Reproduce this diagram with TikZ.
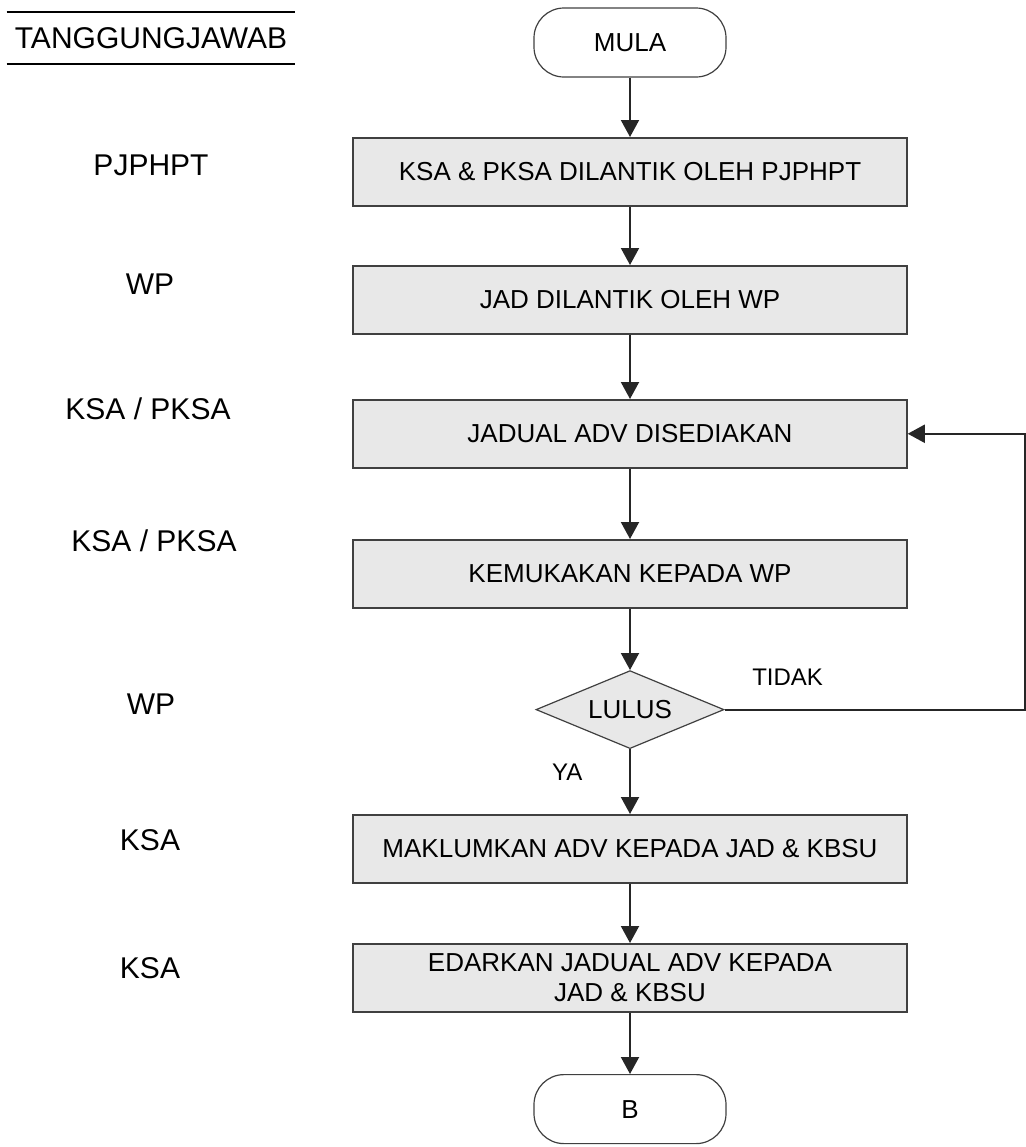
\documentclass[tikz,border=0pt]{standalone}
\usepackage{fontspec}
\setmainfont{Liberation Sans}
\usepackage{tikz}
\usetikzlibrary{shapes.geometric, positioning, arrows.meta, calc}
\tikzset{
  terminal/.style={rectangle, rounded corners=15pt, minimum width=96pt, minimum height=34.5pt, text centered, draw=black!75, line width=0.6pt},
  langkah/.style={rectangle, minimum width=277pt, minimum height=34pt, text centered, align=center, draw=black!75, fill=black!9, line width=0.75pt},
  semak/.style={diamond, aspect=2.4, minimum width=94pt, minimum height=39pt, inner sep=0pt, text centered, draw=black!75, fill=black!9, line width=0.6pt},
  peranan/.style={font=\fontsize{15pt}{18pt}\selectfont},
  arrow/.style={line width=1pt, draw=black!85, -{Triangle[length=8.5pt,width=9pt]}}
}

\begin{document}
\begin{tikzpicture}[every node/.style={font=\fontsize{13pt}{15pt}\selectfont}]
        \useasboundingbox (0,0) rectangle (513pt,-573.5pt);

        % tajuk
        \node (tajuk) [peranan, minimum width=144pt, minimum height=26pt, inner sep=0pt] at (75.5pt,-19pt) {TANGGUNGJAWAB};
        \draw [line width=1pt] (tajuk.north west) -- (tajuk.north east);
        \draw [line width=1pt] (tajuk.south west) -- (tajuk.south east);

        % aliran
        \node (mula) [terminal] at (315pt,-21.25pt) {MULA};
        \node (lantik1) [langkah, below=29.7pt of mula] {KSA \& PKSA DILANTIK OLEH PJPHPT};
        \node (lantik2) [langkah, below=29.25pt of lantik1] {JAD DILANTIK OLEH WP};
        \node (jadual) [langkah, below=32.25pt of lantik2] {JADUAL ADV DISEDIAKAN};
        \node (kemuka) [langkah, below=35.25pt of jadual] {KEMUKAKAN KEPADA WP};
        \node (lulus) [semak, below=30.75pt of kemuka] {LULUS};
        \node (maklum) [langkah, below=32.4pt of lulus] {MAKLUMKAN ADV KEPADA JAD \& KBSU};
        \node (edar) [langkah, below=29.75pt of maklum] {EDARKAN JADUAL ADV KEPADA\\JAD \& KBSU};
        \node (akhir) [terminal, below=30.75pt of edar] {B};

        % tanggungjawab
        \node (r1) [peranan] at (75.5pt,-82.5pt) {PJPHPT};
        \node (r2) [peranan] at (75pt,-142pt) {WP};
        \node (r3) [peranan] at (74pt,-204.5pt) {KSA / PKSA};
        \node (r4) [peranan] at (77pt,-270.5pt) {KSA / PKSA};
        \node (r5) [peranan] at (75.5pt,-352pt) {WP};
        \node (r6) [peranan] at (75pt,-420pt) {KSA};
        \node (r7) [peranan] at (75pt,-484pt) {KSA};

        \draw [arrow] (mula) -- (lantik1);
        \draw [arrow] (lantik1) -- (lantik2);
        \draw [arrow] (lantik2) -- (jadual);
        \draw [arrow] (jadual) -- (kemuka);
        \draw [arrow] (kemuka) -- (lulus);
        \draw [arrow] (lulus.east) -- node[above=8pt, pos=0.21, font=\fontsize{12pt}{14pt}\selectfont] (tidak) {TIDAK} ++(150pt,0) |- (jadual.east);
        \draw [arrow] (lulus.south) -- node[left=20pt, pos=0.35, font=\fontsize{12pt}{14pt}\selectfont] (ya) {YA} (maklum);
        \draw [arrow] (maklum) -- (edar);
        \draw [arrow] (edar) -- (akhir);
    \end{tikzpicture}
\end{document}
